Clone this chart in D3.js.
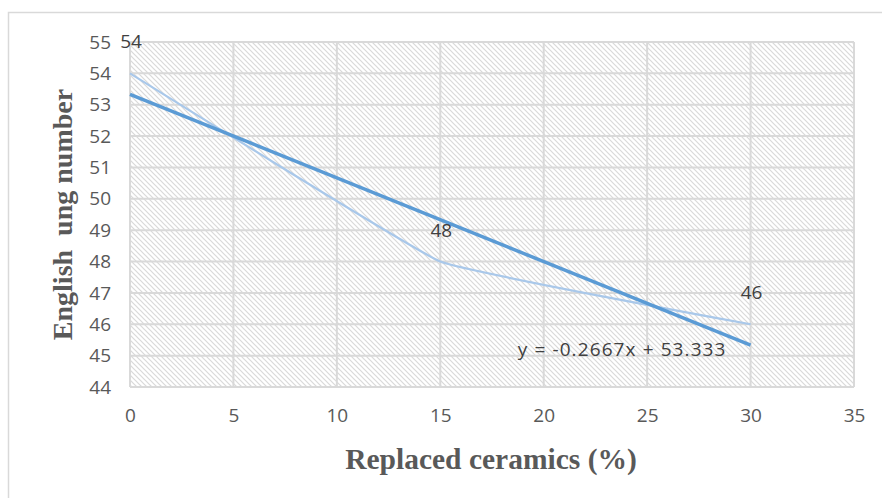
<!DOCTYPE html>
<html>
<head>
<meta charset="utf-8">
<script src="https://cdn.jsdelivr.net/npm/d3@7"></script>
<style>
  html, body { margin: 0; padding: 0; background: #fff; }
  svg { display: block; }
</style>
</head>
<body>
<svg id="chart" width="882" height="498"></svg>
<script>
// Measured series: replacement percentage vs. count
const replaced = [0, 15, 30];
const counts = [54, 48, 46];
const pointLabels = ["54", "48", "46"];

// Linear trend fitted to the series
const trendSlope = -0.2667;
const trendIntercept = 53.333;
const trendRange = [0, 30];
const trendText = "y = -0.2667x + 53.333";

const xTicks = [0, 5, 10, 15, 20, 25, 30, 35];
const yTicks = [44, 45, 46, 47, 48, 49, 50, 51, 52, 53, 54, 55];

const xTitle = "Replaced ceramics (%)";
const yTitle = "English  ung number";

const svg = d3.select("#chart");
const plot = { left: 130, right: 854, top: 42, bottom: 387 };

const x = d3.scaleLinear().domain([0, 35]).range([plot.left, plot.right]);
const y = d3.scaleLinear().domain([44, 55]).range([plot.bottom, plot.top]);

// Outer chart frame
svg.append("rect")
  .attr("x", 8.5).attr("y", 12.5)
  .attr("width", 900).attr("height", 520)
  .attr("fill", "#fff")
  .attr("stroke", "#d9d9d9").attr("stroke-width", 1.5);

// Diagonal hatch fill of the plot area
const defs = svg.append("defs");
const pat = defs.append("pattern")
  .attr("id", "hatch")
  .attr("patternUnits", "userSpaceOnUse")
  .attr("width", 5).attr("height", 5);
pat.append("rect").attr("width", 5).attr("height", 5).attr("fill", "#fff");
pat.append("path")
  .attr("d", "M-1,-1 L6,6 M-1,4 L1,6 M4,-1 L6,1")
  .attr("stroke", "#d9d9d9").attr("stroke-width", 1.2);

svg.append("rect")
  .attr("x", plot.left).attr("y", plot.top)
  .attr("width", plot.right - plot.left).attr("height", plot.bottom - plot.top)
  .attr("fill", "url(#hatch)");

// Gridlines
const grid = svg.append("g").attr("stroke", "#d9d9d9").attr("stroke-width", 2);
grid.selectAll("line.h").data(yTicks).join("line")
  .attr("x1", plot.left).attr("x2", plot.right)
  .attr("y1", d => y(d)).attr("y2", d => y(d));
grid.selectAll("line.v").data(xTicks).join("line")
  .attr("y1", plot.top).attr("y2", plot.bottom)
  .attr("x1", d => x(d)).attr("x2", d => x(d));

// Axes (labels only)
const font = "'Open Sans', 'Liberation Sans', sans-serif";
const fontSize = "19px";
const xAxis = svg.append("g")
  .attr("transform", `translate(0,${plot.bottom})`)
  .call(d3.axisBottom(x).tickValues(xTicks).tickSize(0).tickPadding(22));
const yAxis = svg.append("g")
  .attr("transform", `translate(${plot.left},0)`)
  .call(d3.axisLeft(y).tickValues(yTicks).tickSize(0).tickPadding(19));
[xAxis, yAxis].forEach(g => {
  g.select(".domain").remove();
  g.selectAll("text")
    .attr("fill", "#595959")
    .style("font-family", font)
    .style("font-size", fontSize);
});

// Series line (lightly smoothed)
const line = d3.line()
  .x((d, i) => x(replaced[i]))
  .y(d => y(d))
  .curve(d3.curveCardinal.tension(0.75));
svg.append("path")
  .datum(counts)
  .attr("d", line)
  .attr("fill", "none")
  .attr("stroke", "#a9c8ea")
  .attr("stroke-width", 2.2);

// Trend line
svg.append("line")
  .attr("x1", x(trendRange[0])).attr("y1", y(trendIntercept + trendSlope * trendRange[0]))
  .attr("x2", x(trendRange[1])).attr("y2", y(trendIntercept + trendSlope * trendRange[1]))
  .attr("stroke", "#5b9bd5")
  .attr("stroke-width", 3.5)
  .attr("stroke-linecap", "butt");

// Data labels above points
svg.selectAll("text.pl").data(counts).join("text")
  .attr("class", "pl")
  .attr("x", (d, i) => x(replaced[i]) + 1)
  .attr("y", d => y(d) - 25)
  .attr("text-anchor", "middle")
  .attr("fill", "#404040")
  .style("font-family", font)
  .style("font-size", fontSize)
  .text((d, i) => pointLabels[i]);

// Trend equation
svg.append("text")
  .attr("x", x(30) - 24)
  .attr("y", y(45) + 0)
  .attr("text-anchor", "end")
  .attr("fill", "#404040")
  .style("font-family", font)
  .style("font-size", fontSize)
  .style("letter-spacing", "1.1px")
  .text(trendText);

// Axis titles
svg.append("text")
  .attr("x", (plot.left + plot.right) / 2 - 1)
  .attr("y", 469)
  .attr("text-anchor", "middle")
  .attr("fill", "#595959")
  .style("font-family", "'Liberation Serif', 'Times New Roman', serif")
  .style("font-weight", "bold")
  .style("font-size", "29.5px")
  .text(xTitle);

svg.append("text")
  .attr("transform", `translate(72,${(plot.top + plot.bottom) / 2}) rotate(-90)`)
  .attr("text-anchor", "middle")
  .attr("fill", "#595959")
  .style("font-family", "'Liberation Serif', 'Times New Roman', serif")
  .style("font-weight", "bold")
  .style("font-size", "28px")
  .style("white-space", "pre")
  .text(yTitle);
</script>
</body>
</html>
